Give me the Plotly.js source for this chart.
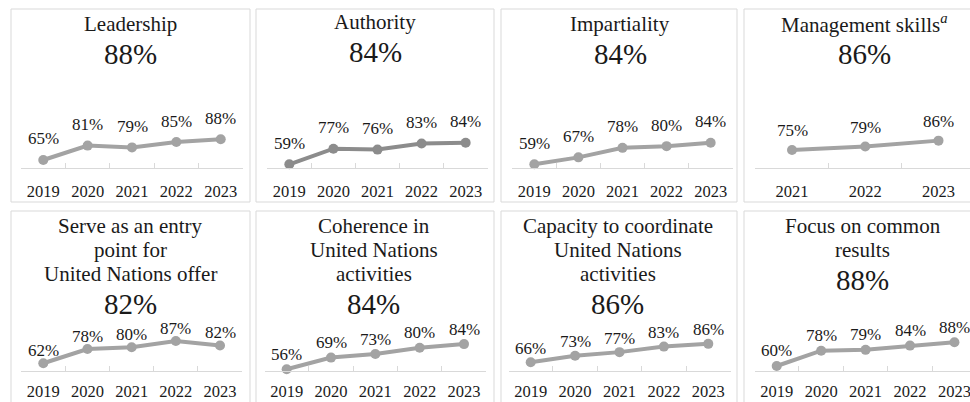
<!DOCTYPE html>
<html>
<head>
<meta charset="utf-8">
<script src="https://cdn.plot.ly/plotly-3.0.1.min.js"></script>
<style>html,body{margin:0;padding:0;background:#fff;}#chart{width:970px;height:402px;}</style>
</head>
<body>
<div id="chart"></div>
<script>
// ---- data ----
const years5 = ['2019', '2020', '2021', '2022', '2023'];
const years3 = ['2021', '2022', '2023'];

const leadership = [65, 81, 79, 85, 88];
const authority = [59, 77, 76, 83, 84];
const impartiality = [59, 67, 78, 80, 84];
const managementSkills = [75, 79, 86];
const entryPoint = [62, 78, 80, 87, 82];
const coherence = [56, 69, 73, 80, 84];
const coordination = [66, 73, 77, 83, 86];
const commonResults = [60, 78, 79, 84, 88];

const titleLines = [
  ['Leadership'],
  ['Authority'],
  ['Impartiality'],
  ['Management skills<sup><i>a</i></sup>'],
  ['Serve as an entry', 'point for', 'United Nations offer'],
  ['Coherence in', 'United Nations', 'activities'],
  ['Capacity to coordinate', 'United Nations', 'activities'],
  ['Focus on common', 'results']
];
const seriesCats = [years5, years5, years5, years3, years5, years5, years5, years5];
const seriesVals = [leadership, authority, impartiality, managementSkills, entryPoint, coherence, coordination, commonResults];

// ---- layout geometry (pixels) ----
const W = 970, H = 402;
const px = v => v / W;
const py = v => 1 - v / H;

const panels = [
  {box: [11, 250, 9, 202],  xd: [21.1, 242.9], xr: 4.5,  yd: [108, 168], yr: [56.1, 122.8], cx: 130.5, t0: 24,    color: '#a3a3a3', shift: 21, so: 8},
  {box: [256, 494, 9, 202], xd: [267.3, 487.7], xr: 4.5, yd: [108, 168], yr: [54.7, 124.1], cx: 375,   t0: 22,    color: '#8c8c8c', shift: 21, so: 8},
  {box: [501, 737, 9, 202], xd: [512.3, 732.7], xr: 4.5, yd: [108, 168], yr: [54.7, 124.1], cx: 620,   t0: 24,    color: '#a3a3a3', shift: 21, so: 8},
  {box: [744, 990, 9, 202], xd: [755.4, 970],   xr: 2.43, yd: [108, 168], yr: [53.8, 124.4], cx: 864,  t0: 24,    color: '#a3a3a3', shift: 19, so: 8},
  {box: [11, 250, 211, 410], xd: [21.2, 242.1], xr: 4.5, yd: [311, 371], yr: [53.3, 120.7], cx: 130.8, t0: 225.5, color: '#a3a3a3', shift: 13, so: 5},
  {box: [256, 494, 211, 410], xd: [264.5, 486.2], xr: 4.5, yd: [311, 371], yr: [54.1, 120.8], cx: 373.7, t0: 225.5, color: '#a3a3a3', shift: 15, so: 5},
  {box: [501, 737, 211, 410], xd: [508.5, 730.5], xr: 4.5, yd: [311, 371], yr: [56.5, 121.7], cx: 617.8, t0: 226, color: '#a3a3a3', shift: 14, so: 5},
  {box: [744, 990, 211, 410], xd: [754.5, 970], xr: 4.35, yd: [311, 371], yr: [54.1, 124.7], cx: 862.5, t0: 226, color: '#a3a3a3', shift: 15, so: 5}
];

const FONT = 'Liberation Serif, Times New Roman, Times, serif';
const TXT = '#1a1a1a';

const traces = [];
const layout = {
  width: W, height: H,
  margin: {l: 0, r: 0, t: 0, b: 0},
  paper_bgcolor: '#ffffff', plot_bgcolor: 'rgba(0,0,0,0)',
  showlegend: false,
  font: {family: FONT, color: TXT},
  shapes: [], annotations: []
};

panels.forEach((p, i) => {
  const n = i + 1;
  const xa = 'x' + (n === 1 ? '' : n);
  const ya = 'y' + (n === 1 ? '' : n);
  const cats = seriesCats[i];
  const vals = seriesVals[i];

  traces.push({
    type: 'scatter', mode: 'lines+markers',
    x: cats, y: vals, xaxis: xa, yaxis: ya,
    line: {color: p.color, width: 4},
    marker: {size: 10, color: p.color},
    cliponaxis: false, hoverinfo: 'skip'
  });

  layout['xaxis' + (n === 1 ? '' : n)] = {
    domain: [px(p.xd[0]), px(p.xd[1])],
    type: 'category', range: [-0.5, p.xr],
    anchor: ya, showline: true, linecolor: '#d9d9d9', linewidth: 1,
    ticks: 'inside', tickson: 'boundaries', ticklen: 5, tickcolor: '#d9d9d9', tickwidth: 1,
    showgrid: false, zeroline: false, fixedrange: true,
    tickfont: {family: FONT, size: 16.5, color: TXT},
    ticklabelstandoff: p.so
  };
  layout['yaxis' + (n === 1 ? '' : n)] = {
    domain: [py(p.yd[1]), py(p.yd[0])],
    range: p.yr, anchor: xa, visible: false, fixedrange: true
  };

  layout.shapes.push({
    type: 'rect', xref: 'paper', yref: 'paper',
    x0: px(p.box[0]), x1: px(p.box[1]), y0: py(p.box[3]), y1: py(p.box[2]),
    line: {color: '#d9d9d9', width: 1}, fillcolor: 'rgba(0,0,0,0)', layer: 'below'
  });

  // data labels (category axis -> serial index of each category)
  cats.forEach((c, j) => {
    layout.annotations.push({
      x: j, y: vals[j], xref: xa, yref: ya,
      text: vals[j] + '%', showarrow: false,
      yshift: p.shift, yanchor: 'middle', xanchor: 'center',
      font: {family: FONT, size: 17, color: TXT}
    });
  });

  // title lines
  const lines = titleLines[i];
  lines.forEach((t, j) => {
    layout.annotations.push({
      xref: 'paper', yref: 'paper', x: px(p.cx), y: py(p.t0 + 24 * j),
      text: t, showarrow: false, xanchor: 'center', yanchor: 'middle',
      font: {family: FONT, size: 21, color: TXT}
    });
  });
  // headline value (latest year)
  layout.annotations.push({
    xref: 'paper', yref: 'paper', x: px(p.cx), y: py(p.t0 + 24 * (lines.length - 1) + 30),
    text: vals[vals.length - 1] + '%', showarrow: false, xanchor: 'center', yanchor: 'middle',
    font: {family: FONT, size: 29, color: TXT}
  });
});

Plotly.newPlot('chart', traces, layout, {displayModeBar: false, staticPlot: true});
</script>
</body>
</html>
